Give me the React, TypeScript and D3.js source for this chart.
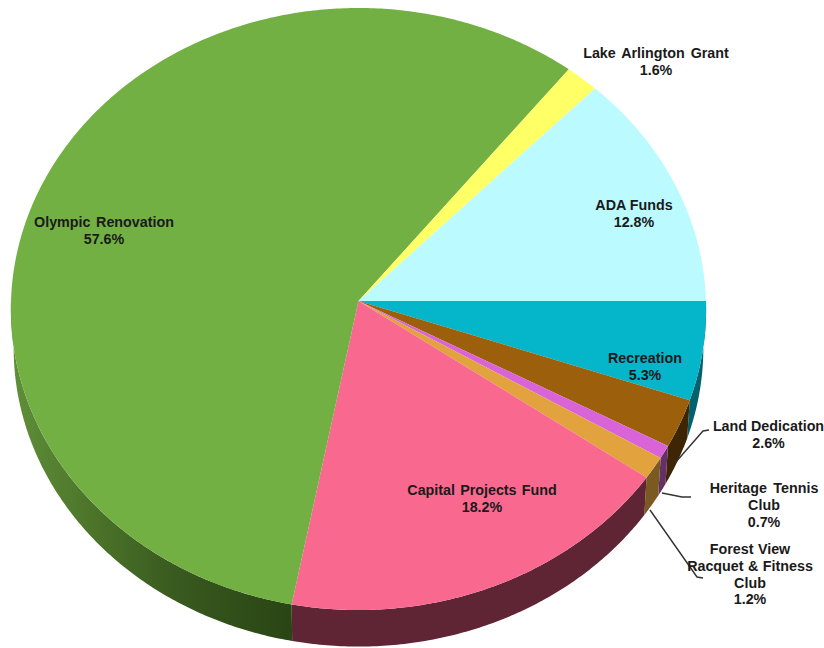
import React from "react";
import * as d3 from "d3";

// Funding sources, clockwise from the three o'clock position.
const sliceNames = [
  "Recreation",
  "Land Dedication",
  "Heritage Tennis Club",
  "Forest View Racquet & Fitness Club",
  "Capital Projects Fund",
  "Olympic Renovation",
  "Lake Arlington Grant",
  "ADA Funds",
];
const sliceShares = [5.3, 2.6, 0.7, 1.2, 18.2, 57.6, 1.6, 12.8];
const topColors = ["#05b5c9", "#9c5f0c", "#d864d8", "#e2a23e", "#f9688f", "#72b043", "#ffff66", "#bbfbff"];
const wallColors = ["#05606e", "#3e2604", "#653068", "#7a5a20", "#5f2535", "#2b4615", "#77772e", "#5a7a7c"];

const labelLines = [
  ["Recreation", "5.3%"],
  ["Land Dedication", "2.6%"],
  ["Heritage Tennis", "Club", "0.7%"],
  ["Forest View", "Racquet & Fitness", "Club", "1.2%"],
  ["Capital Projects Fund", "18.2%"],
  ["Olympic Renovation", "57.6%"],
  ["Lake Arlington Grant", "1.6%"],
  ["ADA Funds", "12.8%"],
];
const labelCenters: [number, number][] = [
  [645, 363], [768.5, 431], [764, 493], [750, 554], [482, 495], [104, 227], [656, 58], [634, 210],
];
const labelWordGap = [0, 0, 2.5, 0.5, 1.2, 1.6, 2, 0];

const leaderLines: [number, number][][] = [
  [[675, 463], [703, 431], [709, 430]],
  [[662, 493], [682, 497], [691, 497]],
  [[650, 510], [697, 577], [703, 578]],
];

// Perspective projection of the tilted disc.
const cx = 358.5;
const cy = 301;
const radiusX = 347.5;
const radiusY = 300.8;
const tilt = 0.0266;
const wallDepth = 39;
const baseScale = 0.992;

function rim(angle: number, scale = 1, drop = 0): [number, number] {
  const u = Math.cos(angle);
  const v = Math.sin(angle);
  const s = scale / (1 - tilt * v);
  return [cx + radiusX * u * s, cy + drop + radiusY * v * s];
}

function arcSamples(a0: number, a1: number, scale = 1, drop = 0): [number, number][] {
  const steps = Math.max(2, Math.ceil(Math.abs(a1 - a0) / 0.01));
  return d3.range(steps + 1).map((i) => rim(a0 + ((a1 - a0) * i) / steps, scale, drop));
}

const outline = d3.line().curve(d3.curveLinearClosed);

export default function App() {
  const slices = d3
    .pie<number>()
    .sort(null)
    .startAngle(0)
    .endAngle(2 * Math.PI)(sliceShares);

  const walls = slices.map((s) => {
    const a0 = Math.min(s.startAngle, Math.PI);
    const a1 = Math.min(s.endAngle, Math.PI);
    if (a1 <= a0) return null;
    const pts = [...arcSamples(a0, a1), ...arcSamples(a1, a0, baseScale, wallDepth)];
    return outline(pts);
  });

  const faces = slices.map((s) => outline([[cx, cy], ...arcSamples(s.startAngle, s.endAngle)]));

  return (
    <svg
      width={824}
      height={648}
      viewBox="0 0 824 648"
      style={{ position: "absolute", left: 0, top: 0, background: "#fff" }}
    >
      <defs>
        <linearGradient id="olympicWall" gradientUnits="userSpaceOnUse" x1={12} x2={291} y1={0} y2={0}>
          <stop offset="0" stopColor="#5f8f38" />
          <stop offset="0.3" stopColor="#4b7329" />
          <stop offset="0.6" stopColor="#38591f" />
          <stop offset="1" stopColor="#2a4514" />
        </linearGradient>
      </defs>
      {walls.map((d, i) =>
        d ? <path key={sliceNames[i]} d={d} fill={i === 5 ? "url(#olympicWall)" : wallColors[i]} /> : null
      )}
      {faces.map((d, i) => (
        <path key={sliceNames[i]} d={d ?? ""} fill={topColors[i]} />
      ))}
      {leaderLines.map((pts, i) => (
        <path
          key={i}
          d={d3.line()(pts) ?? ""}
          fill="none"
          stroke="#333"
          strokeWidth={1.4}
        />
      ))}
      <g fontFamily="'Liberation Sans', Arial, sans-serif" fontWeight={700} fontSize={14.3} fill="#1a1a1a" textAnchor="middle">
        {labelLines.map((lines, i) => (
          <text key={sliceNames[i]} x={labelCenters[i][0]} y={labelCenters[i][1]} style={{ wordSpacing: labelWordGap[i] }}>
            {lines.map((line, j) => (
              <tspan key={j} x={labelCenters[i][0]} dy={j === 0 ? 0 : 16.8}>
                {line}
              </tspan>
            ))}
          </text>
        ))}
      </g>
    </svg>
  );
}
